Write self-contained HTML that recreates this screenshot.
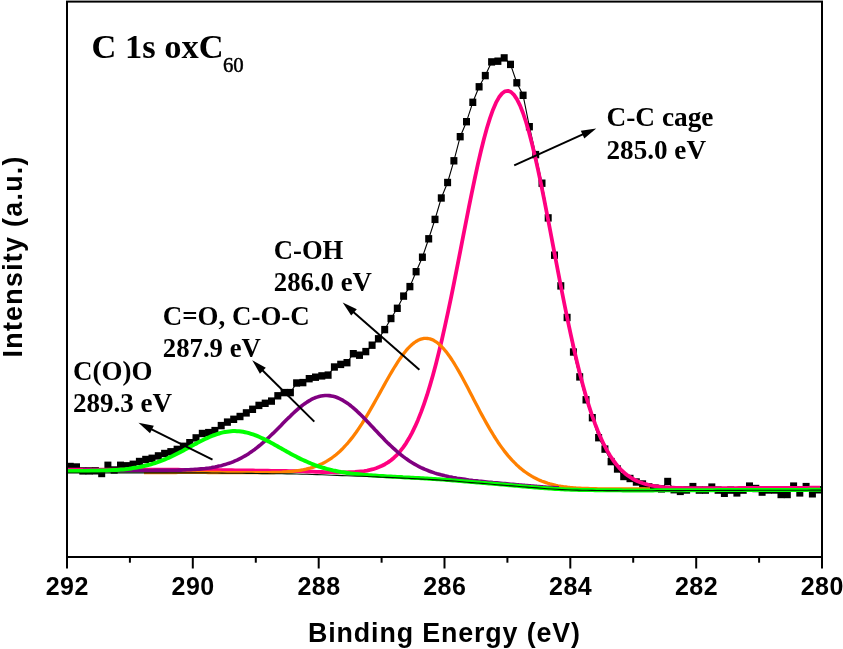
<!DOCTYPE html>
<html><head><meta charset="utf-8"><title>C 1s oxC60 XPS</title>
<style>
html,body{margin:0;padding:0;background:#fff;}
svg{display:block;}
.sf{font-family:"Liberation Serif",serif;font-weight:bold;fill:#000;}
.sa{font-family:"Liberation Sans",sans-serif;font-weight:bold;fill:#000;}
</style></head>
<body>
<svg width="843" height="649" viewBox="0 0 843 649">
<rect width="843" height="649" fill="#fff"/>
<g fill="none" stroke-linejoin="round" stroke-linecap="butt">
<path d="M70.2,466.5 L76.5,467.0 L82.8,470.9 L89.1,470.9 L95.4,470.8 L101.7,473.5 L107.9,465.3 L114.2,470.0 L120.5,465.3 L126.8,465.8 L133.1,464.3 L139.4,461.5 L145.7,459.5 L152.0,458.3 L158.3,455.9 L164.6,453.5 L170.8,451.8 L177.1,449.4 L183.4,446.3 L189.7,442.7 L196.0,437.9 L202.3,433.5 L208.6,432.6 L214.9,430.6 L221.2,425.6 L227.4,422.1 L233.7,419.3 L240.0,416.5 L246.3,412.9 L252.6,409.3 L258.9,405.4 L265.2,403.3 L271.5,401.1 L277.8,395.8 L284.1,392.6 L290.4,392.6 L296.6,383.0 L302.9,382.6 L309.2,378.7 L315.5,377.2 L321.8,375.9 L328.1,375.1 L334.4,367.0 L340.7,364.4 L347.0,362.7 L353.2,353.7 L359.5,355.2 L365.8,351.6 L372.1,345.2 L378.4,338.8 L384.7,329.6 L391.0,318.5 L397.3,308.3 L403.6,296.1 L409.9,286.6 L416.1,271.7 L422.4,257.2 L428.7,238.8 L435.0,219.4 L441.3,198.0 L447.6,182.5 L453.9,160.8 L460.2,136.7 L466.5,121.7 L472.8,102.3 L479.1,86.8 L485.3,75.6 L491.6,61.9 L497.9,61.2 L504.2,57.9 L510.5,64.4 L516.8,82.8 L523.1,95.3 L529.4,126.7 L535.7,154.6 L542.0,183.2 L548.2,217.9 L554.5,255.2 L560.8,285.9 L567.1,317.5 L573.4,352.0 L579.7,376.9 L586.0,399.8 L592.3,417.7 L598.6,437.7 L604.9,449.1 L611.1,461.6 L617.4,469.0 L623.7,476.5 L630.0,478.5 L636.3,482.0 L642.6,484.0 L648.9,486.9 L655.2,488.1 L661.5,488.9 L667.8,481.5 L674.0,489.7 L680.3,491.4 L686.6,490.0 L692.9,486.6 L699.2,490.1 L705.5,490.1 L711.8,487.1 L718.1,490.1 L724.4,493.3 L730.7,490.1 L736.9,492.9 L743.2,490.1 L749.5,486.1 L755.8,488.5 L762.1,492.1 L768.4,490.0 L774.7,490.0 L781.0,494.5 L787.3,494.5 L793.6,486.1 L799.8,492.9 L806.1,486.6 L812.4,493.8 L818.7,489.8" stroke="#000" stroke-width="1.1"/>
<g fill="#000" stroke="none"><rect x="66.7" y="462.8" width="7.0" height="7.4"/><rect x="73.0" y="463.3" width="7.0" height="7.4"/><rect x="79.3" y="467.2" width="7.0" height="7.4"/><rect x="85.6" y="467.2" width="7.0" height="7.4"/><rect x="91.9" y="467.1" width="7.0" height="7.4"/><rect x="98.2" y="469.8" width="7.0" height="7.4"/><rect x="104.4" y="461.6" width="7.0" height="7.4"/><rect x="110.7" y="466.3" width="7.0" height="7.4"/><rect x="117.0" y="461.6" width="7.0" height="7.4"/><rect x="123.3" y="462.1" width="7.0" height="7.4"/><rect x="129.6" y="460.6" width="7.0" height="7.4"/><rect x="135.9" y="457.8" width="7.0" height="7.4"/><rect x="142.2" y="455.8" width="7.0" height="7.4"/><rect x="148.5" y="454.6" width="7.0" height="7.4"/><rect x="154.8" y="452.2" width="7.0" height="7.4"/><rect x="161.1" y="449.8" width="7.0" height="7.4"/><rect x="167.3" y="448.1" width="7.0" height="7.4"/><rect x="173.6" y="445.7" width="7.0" height="7.4"/><rect x="179.9" y="442.6" width="7.0" height="7.4"/><rect x="186.2" y="439.0" width="7.0" height="7.4"/><rect x="192.5" y="434.2" width="7.0" height="7.4"/><rect x="198.8" y="429.8" width="7.0" height="7.4"/><rect x="205.1" y="428.9" width="7.0" height="7.4"/><rect x="211.4" y="426.9" width="7.0" height="7.4"/><rect x="217.7" y="421.9" width="7.0" height="7.4"/><rect x="223.9" y="418.4" width="7.0" height="7.4"/><rect x="230.2" y="415.6" width="7.0" height="7.4"/><rect x="236.5" y="412.8" width="7.0" height="7.4"/><rect x="242.8" y="409.2" width="7.0" height="7.4"/><rect x="249.1" y="405.6" width="7.0" height="7.4"/><rect x="255.4" y="401.7" width="7.0" height="7.4"/><rect x="261.7" y="399.6" width="7.0" height="7.4"/><rect x="268.0" y="397.4" width="7.0" height="7.4"/><rect x="274.3" y="392.1" width="7.0" height="7.4"/><rect x="280.6" y="388.9" width="7.0" height="7.4"/><rect x="286.9" y="388.9" width="7.0" height="7.4"/><rect x="293.1" y="379.3" width="7.0" height="7.4"/><rect x="299.4" y="378.9" width="7.0" height="7.4"/><rect x="305.7" y="375.0" width="7.0" height="7.4"/><rect x="312.0" y="373.5" width="7.0" height="7.4"/><rect x="318.3" y="372.2" width="7.0" height="7.4"/><rect x="324.6" y="371.4" width="7.0" height="7.4"/><rect x="330.9" y="363.3" width="7.0" height="7.4"/><rect x="337.2" y="360.7" width="7.0" height="7.4"/><rect x="343.5" y="359.0" width="7.0" height="7.4"/><rect x="349.8" y="350.0" width="7.0" height="7.4"/><rect x="356.0" y="351.5" width="7.0" height="7.4"/><rect x="362.3" y="347.9" width="7.0" height="7.4"/><rect x="368.6" y="341.5" width="7.0" height="7.4"/><rect x="374.9" y="335.1" width="7.0" height="7.4"/><rect x="381.2" y="325.9" width="7.0" height="7.4"/><rect x="387.5" y="314.8" width="7.0" height="7.4"/><rect x="393.8" y="304.6" width="7.0" height="7.4"/><rect x="400.1" y="292.4" width="7.0" height="7.4"/><rect x="406.4" y="282.9" width="7.0" height="7.4"/><rect x="412.6" y="268.0" width="7.0" height="7.4"/><rect x="418.9" y="253.5" width="7.0" height="7.4"/><rect x="425.2" y="235.1" width="7.0" height="7.4"/><rect x="431.5" y="215.7" width="7.0" height="7.4"/><rect x="437.8" y="194.3" width="7.0" height="7.4"/><rect x="444.1" y="178.8" width="7.0" height="7.4"/><rect x="450.4" y="157.1" width="7.0" height="7.4"/><rect x="456.7" y="133.0" width="7.0" height="7.4"/><rect x="463.0" y="118.0" width="7.0" height="7.4"/><rect x="469.3" y="98.6" width="7.0" height="7.4"/><rect x="475.6" y="83.1" width="7.0" height="7.4"/><rect x="481.8" y="71.9" width="7.0" height="7.4"/><rect x="488.1" y="58.2" width="7.0" height="7.4"/><rect x="494.4" y="57.5" width="7.0" height="7.4"/><rect x="500.7" y="54.2" width="7.0" height="7.4"/><rect x="507.0" y="60.7" width="7.0" height="7.4"/><rect x="513.3" y="79.1" width="7.0" height="7.4"/><rect x="519.6" y="91.6" width="7.0" height="7.4"/><rect x="525.9" y="123.0" width="7.0" height="7.4"/><rect x="532.2" y="150.9" width="7.0" height="7.4"/><rect x="538.5" y="179.5" width="7.0" height="7.4"/><rect x="544.7" y="214.2" width="7.0" height="7.4"/><rect x="551.0" y="251.5" width="7.0" height="7.4"/><rect x="557.3" y="282.2" width="7.0" height="7.4"/><rect x="563.6" y="313.8" width="7.0" height="7.4"/><rect x="569.9" y="348.3" width="7.0" height="7.4"/><rect x="576.2" y="373.2" width="7.0" height="7.4"/><rect x="582.5" y="396.1" width="7.0" height="7.4"/><rect x="588.8" y="414.0" width="7.0" height="7.4"/><rect x="595.1" y="434.0" width="7.0" height="7.4"/><rect x="601.4" y="445.4" width="7.0" height="7.4"/><rect x="607.6" y="457.9" width="7.0" height="7.4"/><rect x="613.9" y="465.3" width="7.0" height="7.4"/><rect x="620.2" y="472.8" width="7.0" height="7.4"/><rect x="626.5" y="474.8" width="7.0" height="7.4"/><rect x="632.8" y="478.3" width="7.0" height="7.4"/><rect x="639.1" y="480.3" width="7.0" height="7.4"/><rect x="645.4" y="483.2" width="7.0" height="7.4"/><rect x="651.7" y="484.4" width="7.0" height="7.4"/><rect x="658.0" y="485.2" width="7.0" height="7.4"/><rect x="664.2" y="477.8" width="7.0" height="7.4"/><rect x="670.5" y="486.0" width="7.0" height="7.4"/><rect x="676.8" y="487.7" width="7.0" height="7.4"/><rect x="683.1" y="486.3" width="7.0" height="7.4"/><rect x="689.4" y="482.9" width="7.0" height="7.4"/><rect x="695.7" y="486.4" width="7.0" height="7.4"/><rect x="702.0" y="486.4" width="7.0" height="7.4"/><rect x="708.3" y="483.4" width="7.0" height="7.4"/><rect x="714.6" y="486.4" width="7.0" height="7.4"/><rect x="720.9" y="489.6" width="7.0" height="7.4"/><rect x="727.2" y="486.4" width="7.0" height="7.4"/><rect x="733.4" y="489.2" width="7.0" height="7.4"/><rect x="739.7" y="486.4" width="7.0" height="7.4"/><rect x="746.0" y="482.4" width="7.0" height="7.4"/><rect x="752.3" y="484.8" width="7.0" height="7.4"/><rect x="758.6" y="488.4" width="7.0" height="7.4"/><rect x="764.9" y="486.3" width="7.0" height="7.4"/><rect x="771.2" y="486.3" width="7.0" height="7.4"/><rect x="777.5" y="490.8" width="7.0" height="7.4"/><rect x="783.8" y="490.8" width="7.0" height="7.4"/><rect x="790.1" y="482.4" width="7.0" height="7.4"/><rect x="796.3" y="489.2" width="7.0" height="7.4"/><rect x="802.6" y="482.9" width="7.0" height="7.4"/><rect x="808.9" y="490.1" width="7.0" height="7.4"/><rect x="815.2" y="486.1" width="7.0" height="7.4"/></g>
<path d="M67.0,469.6 L70.0,469.6 L73.0,469.6 L76.0,469.6 L79.0,469.6 L82.0,469.6 L85.0,469.6 L88.0,469.6 L91.0,469.6 L94.0,469.6 L97.0,469.6 L100.0,469.6 L103.0,469.6 L106.0,469.7 L109.0,469.7 L112.0,469.7 L115.0,469.7 L118.0,469.7 L121.0,469.7 L124.0,469.7 L127.0,469.7 L130.0,469.7 L133.0,469.7 L136.0,469.7 L139.0,469.7 L142.0,469.7 L145.0,469.7 L148.0,469.7 L151.0,469.7 L154.0,469.7 L157.0,469.7 L160.0,469.7 L163.0,469.7 L166.0,469.7 L169.0,469.7 L172.0,469.7 L175.0,469.7 L178.0,469.7 L181.0,469.8 L184.0,469.8 L187.0,469.8 L190.0,469.8 L193.0,469.8 L196.0,469.8 L199.0,469.8 L202.0,469.9 L205.0,469.9 L208.0,469.9 L211.0,469.9 L214.0,470.0 L217.0,470.0 L220.0,470.1 L223.0,470.1 L226.0,470.1 L229.0,470.2 L232.0,470.2 L235.0,470.3 L238.0,470.3 L241.0,470.4 L244.0,470.4 L247.0,470.4 L250.0,470.5 L253.0,470.5 L256.0,470.6 L259.0,470.6 L262.0,470.6 L265.0,470.7 L268.0,470.7 L271.0,470.8 L274.0,470.8 L277.0,470.9 L280.0,470.9 L283.0,471.0 L286.0,471.0 L289.0,471.1 L292.0,471.1 L295.0,471.2 L298.0,471.2 L301.0,471.3 L304.0,471.4 L307.0,471.5 L310.0,471.6 L313.0,471.7 L316.0,471.8 L319.0,471.9 L322.0,472.0 L325.0,472.1 L328.0,472.1 L331.0,472.2 L334.0,472.3 L337.0,472.3 L340.0,472.3 L343.0,472.3 L346.0,472.3 L349.0,472.2 L352.0,472.1 L355.0,472.0 L358.0,471.7 L361.0,471.4 L364.0,471.1 L367.0,470.6 L370.0,469.9 L373.0,469.2 L376.0,468.3 L379.0,467.1 L382.0,465.8 L385.0,464.2 L388.0,462.4 L391.0,460.2 L394.0,457.7 L397.0,454.8 L400.0,451.4 L403.0,447.6 L406.0,443.3 L409.0,438.3 L412.0,432.8 L415.0,426.7 L418.0,419.9 L421.0,412.4 L424.0,404.1 L427.0,395.2 L430.0,385.4 L433.0,375.0 L436.0,363.7 L439.0,351.8 L442.0,339.2 L445.0,325.9 L448.0,312.1 L451.0,297.8 L454.0,283.0 L457.0,267.9 L460.0,252.6 L463.0,237.2 L466.0,221.9 L469.0,206.7 L472.0,191.8 L475.0,177.5 L478.0,163.7 L481.0,150.8 L484.0,138.7 L487.0,127.8 L490.0,118.1 L493.0,109.7 L496.0,102.7 L499.0,97.3 L502.0,93.5 L505.0,91.3 L508.0,90.8 L511.0,92.0 L514.0,94.9 L517.0,99.4 L520.0,105.4 L523.0,113.0 L526.0,122.0 L529.0,132.3 L532.0,143.8 L535.0,156.3 L538.0,169.7 L541.0,183.9 L544.0,198.7 L547.0,214.0 L550.0,229.5 L553.0,245.3 L556.0,261.0 L559.0,276.6 L562.0,292.0 L565.0,307.0 L568.0,321.6 L571.0,335.7 L574.0,349.2 L577.0,362.0 L580.0,374.1 L583.0,385.5 L586.0,396.2 L589.0,406.1 L592.0,415.3 L595.0,423.7 L598.0,431.4 L601.0,438.4 L604.0,444.7 L607.0,450.4 L610.0,455.5 L613.0,460.0 L616.0,464.0 L619.0,467.6 L622.0,470.7 L625.0,473.4 L628.0,475.7 L631.0,477.7 L634.0,479.5 L637.0,481.0 L640.0,482.2 L643.0,483.3 L646.0,484.2 L649.0,485.0 L652.0,485.6 L655.0,486.1 L658.0,486.5 L661.0,486.9 L664.0,487.2 L667.0,487.4 L670.0,487.6 L673.0,487.7 L676.0,487.8 L679.0,487.9 L682.0,488.0 L685.0,488.1 L688.0,488.1 L691.0,488.1 L694.0,488.1 L697.0,488.1 L700.0,488.2 L703.0,488.2 L706.0,488.2 L709.0,488.2 L712.0,488.1 L715.0,488.1 L718.0,488.1 L721.0,488.1 L724.0,488.1 L727.0,488.1 L730.0,488.1 L733.0,488.1 L736.0,488.1 L739.0,488.0 L742.0,488.0 L745.0,488.0 L748.0,488.0 L751.0,488.0 L754.0,488.0 L757.0,488.0 L760.0,488.0 L763.0,487.9 L766.0,487.9 L769.0,487.9 L772.0,487.9 L775.0,487.9 L778.0,487.9 L781.0,487.9 L784.0,487.9 L787.0,487.8 L790.0,487.8 L793.0,487.8 L796.0,487.8 L799.0,487.8 L802.0,487.8 L805.0,487.8 L808.0,487.8 L811.0,487.7 L814.0,487.7 L817.0,487.7 L820.0,487.7" stroke="#ff0080" stroke-width="3.8"/>
<path d="M144.0,472.6 L146.0,472.6 L148.0,472.6 L150.0,472.6 L152.0,472.5 L154.0,472.5 L156.0,472.5 L158.0,472.5 L160.0,472.5 L162.0,472.5 L164.0,472.5 L166.0,472.5 L168.0,472.5 L170.0,472.5 L172.0,472.5 L174.0,472.5 L176.0,472.5 L178.0,472.4 L180.0,472.4 L182.0,472.4 L184.0,472.4 L186.0,472.4 L188.0,472.4 L190.0,472.4 L192.0,472.4 L194.0,472.4 L196.0,472.4 L198.0,472.4 L200.0,472.4 L202.0,472.4 L204.0,472.4 L206.0,472.4 L208.0,472.5 L210.0,472.5 L212.0,472.5 L214.0,472.5 L216.0,472.5 L218.0,472.5 L220.0,472.5 L222.0,472.6 L224.0,472.6 L226.0,472.6 L228.0,472.6 L230.0,472.6 L232.0,472.6 L234.0,472.7 L236.0,472.7 L238.0,472.7 L240.0,472.7 L242.0,472.7 L244.0,472.7 L246.0,472.7 L248.0,472.7 L250.0,472.7 L252.0,472.7 L254.0,472.7 L256.0,472.7 L258.0,472.7 L260.0,472.7 L262.0,472.7 L264.0,472.7 L266.0,472.7 L268.0,472.6 L270.0,472.6 L272.0,472.5 L274.0,472.5 L276.0,472.4 L278.0,472.3 L280.0,472.3 L282.0,472.2 L284.0,472.0 L286.0,471.9 L288.0,471.7 L290.0,471.6 L292.0,471.4 L294.0,471.1 L296.0,470.9 L298.0,470.6 L300.0,470.3 L302.0,470.0 L304.0,469.6 L306.0,469.2 L308.0,468.7 L310.0,468.2 L312.0,467.6 L314.0,466.9 L316.0,466.2 L318.0,465.5 L320.0,464.6 L322.0,463.7 L324.0,462.7 L326.0,461.6 L328.0,460.4 L330.0,459.1 L332.0,457.8 L334.0,456.3 L336.0,454.7 L338.0,453.0 L340.0,451.2 L342.0,449.3 L344.0,447.2 L346.0,445.0 L348.0,442.8 L350.0,440.4 L352.0,437.9 L354.0,435.2 L356.0,432.5 L358.0,429.6 L360.0,426.6 L362.0,423.6 L364.0,420.4 L366.0,417.1 L368.0,413.8 L370.0,410.4 L372.0,406.9 L374.0,403.4 L376.0,399.8 L378.0,396.2 L380.0,392.6 L382.0,389.0 L384.0,385.4 L386.0,381.8 L388.0,378.2 L390.0,374.7 L392.0,371.3 L394.0,368.0 L396.0,364.8 L398.0,361.7 L400.0,358.7 L402.0,355.9 L404.0,353.2 L406.0,350.7 L408.0,348.4 L410.0,346.4 L412.0,344.5 L414.0,342.9 L416.0,341.5 L418.0,340.3 L420.0,339.4 L422.0,338.8 L424.0,338.4 L426.0,338.3 L428.0,338.5 L430.0,338.9 L432.0,339.6 L434.0,340.6 L436.0,341.8 L438.0,343.3 L440.0,345.1 L442.0,347.0 L444.0,349.2 L446.0,351.6 L448.0,354.2 L450.0,357.0 L452.0,360.0 L454.0,363.2 L456.0,366.5 L458.0,369.9 L460.0,373.4 L462.0,377.0 L464.0,380.7 L466.0,384.5 L468.0,388.3 L470.0,392.2 L472.0,396.0 L474.0,399.9 L476.0,403.7 L478.0,407.6 L480.0,411.4 L482.0,415.1 L484.0,418.8 L486.0,422.4 L488.0,425.9 L490.0,429.4 L492.0,432.7 L494.0,436.0 L496.0,439.1 L498.0,442.2 L500.0,445.1 L502.0,447.9 L504.0,450.6 L506.0,453.1 L508.0,455.6 L510.0,457.9 L512.0,460.1 L514.0,462.2 L516.0,464.2 L518.0,466.1 L520.0,467.9 L522.0,469.5 L524.0,471.1 L526.0,472.5 L528.0,473.9 L530.0,475.2 L532.0,476.4 L534.0,477.5 L536.0,478.5 L538.0,479.5 L540.0,480.4 L542.0,481.2 L544.0,481.9 L546.0,482.6 L548.0,483.3 L550.0,483.9 L552.0,484.4 L554.0,484.9 L556.0,485.4 L558.0,485.8 L560.0,486.1 L562.0,486.5 L564.0,486.8 L566.0,487.0 L568.0,487.3 L570.0,487.5 L572.0,487.6 L574.0,487.8 L576.0,488.0 L578.0,488.1 L580.0,488.2 L582.0,488.3 L584.0,488.4 L586.0,488.5 L588.0,488.5 L590.0,488.6 L592.0,488.7 L594.0,488.7 L596.0,488.7 L598.0,488.8 L600.0,488.8 L602.0,488.8 L604.0,488.9 L606.0,488.9 L608.0,488.9 L610.0,488.9 L612.0,488.9 L614.0,488.9 L616.0,488.9 L618.0,488.9 L620.0,488.9 L622.0,488.9 L624.0,488.9 L626.0,488.9 L628.0,488.9 L630.0,488.9 L632.0,488.9 L634.0,488.9 L636.0,488.9 L638.0,488.8 L640.0,488.8 L642.0,488.8 L644.0,488.8 L646.0,488.8 L648.0,488.8 L650.0,488.8" stroke="#ff8000" stroke-width="3.3"/>
<path d="M83.0,470.4 L85.0,470.4 L87.0,470.4 L89.0,470.4 L91.0,470.4 L93.0,470.4 L95.0,470.4 L97.0,470.4 L99.0,470.5 L101.0,470.5 L103.0,470.5 L105.0,470.5 L107.0,470.5 L109.0,470.5 L111.0,470.5 L113.0,470.5 L115.0,470.5 L117.0,470.5 L119.0,470.5 L121.0,470.5 L123.0,470.5 L125.0,470.5 L127.0,470.5 L129.0,470.5 L131.0,470.5 L133.0,470.5 L135.0,470.5 L137.0,470.5 L139.0,470.5 L141.0,470.5 L143.0,470.5 L145.0,470.5 L147.0,470.5 L149.0,470.5 L151.0,470.5 L153.0,470.5 L155.0,470.4 L157.0,470.4 L159.0,470.4 L161.0,470.4 L163.0,470.4 L165.0,470.4 L167.0,470.4 L169.0,470.3 L171.0,470.3 L173.0,470.3 L175.0,470.2 L177.0,470.2 L179.0,470.1 L181.0,470.1 L183.0,470.0 L185.0,469.9 L187.0,469.8 L189.0,469.8 L191.0,469.6 L193.0,469.5 L195.0,469.4 L197.0,469.3 L199.0,469.1 L201.0,468.9 L203.0,468.7 L205.0,468.5 L207.0,468.2 L209.0,468.0 L211.0,467.7 L213.0,467.3 L215.0,467.0 L217.0,466.6 L219.0,466.1 L221.0,465.7 L223.0,465.1 L225.0,464.6 L227.0,463.9 L229.0,463.3 L231.0,462.6 L233.0,461.8 L235.0,460.9 L237.0,460.1 L239.0,459.1 L241.0,458.1 L243.0,457.0 L245.0,455.9 L247.0,454.7 L249.0,453.4 L251.0,452.0 L253.0,450.6 L255.0,449.2 L257.0,447.6 L259.0,446.0 L261.0,444.4 L263.0,442.7 L265.0,440.9 L267.0,439.1 L269.0,437.2 L271.0,435.3 L273.0,433.4 L275.0,431.4 L277.0,429.4 L279.0,427.4 L281.0,425.4 L283.0,423.3 L285.0,421.3 L287.0,419.3 L289.0,417.4 L291.0,415.4 L293.0,413.5 L295.0,411.7 L297.0,409.9 L299.0,408.1 L301.0,406.5 L303.0,404.9 L305.0,403.5 L307.0,402.1 L309.0,400.9 L311.0,399.7 L313.0,398.7 L315.0,397.8 L317.0,397.1 L319.0,396.5 L321.0,396.0 L323.0,395.7 L325.0,395.5 L327.0,395.5 L329.0,395.6 L331.0,395.9 L333.0,396.3 L335.0,396.8 L337.0,397.5 L339.0,398.4 L341.0,399.3 L343.0,400.4 L345.0,401.7 L347.0,403.0 L349.0,404.4 L351.0,406.0 L353.0,407.7 L355.0,409.4 L357.0,411.2 L359.0,413.1 L361.0,415.0 L363.0,417.0 L365.0,419.1 L367.0,421.2 L369.0,423.3 L371.0,425.4 L373.0,427.5 L375.0,429.7 L377.0,431.8 L379.0,433.9 L381.0,436.0 L383.0,438.1 L385.0,440.2 L387.0,442.2 L389.0,444.1 L391.0,446.0 L393.0,447.9 L395.0,449.7 L397.0,451.5 L399.0,453.2 L401.0,454.8 L403.0,456.4 L405.0,457.9 L407.0,459.3 L409.0,460.7 L411.0,462.0 L413.0,463.2 L415.0,464.4 L417.0,465.5 L419.0,466.6 L421.0,467.6 L423.0,468.5 L425.0,469.4 L427.0,470.2 L429.0,471.0 L431.0,471.7 L433.0,472.4 L435.0,473.1 L437.0,473.7 L439.0,474.2 L441.0,474.8 L443.0,475.3 L445.0,475.8 L447.0,476.2 L449.0,476.7 L451.0,477.1 L453.0,477.5 L455.0,477.8 L457.0,478.2 L459.0,478.5 L461.0,478.8 L463.0,479.1 L465.0,479.4 L467.0,479.7 L469.0,480.0 L471.0,480.2 L473.0,480.5 L475.0,480.7 L477.0,480.9 L479.0,481.2 L481.0,481.4 L483.0,481.6 L485.0,481.8 L487.0,482.0 L489.0,482.2 L491.0,482.4 L493.0,482.6 L495.0,482.7 L497.0,482.9 L499.0,483.1 L501.0,483.3 L503.0,483.5 L505.0,483.6 L507.0,483.8 L509.0,484.0 L511.0,484.2 L513.0,484.3 L515.0,484.5 L517.0,484.7 L519.0,484.9 L521.0,485.0 L523.0,485.2 L525.0,485.4 L527.0,485.5 L529.0,485.7 L531.0,485.9 L533.0,486.0 L535.0,486.2 L537.0,486.4 L539.0,486.5 L541.0,486.7 L543.0,486.9 L545.0,487.0 L547.0,487.2 L549.0,487.3 L551.0,487.5 L553.0,487.6 L555.0,487.7 L557.0,487.8 L559.0,487.9" stroke="#800080" stroke-width="3.6"/>
<path d="M67.0,471.0 L69.0,471.0 L71.0,471.0 L73.0,471.0 L75.0,470.9 L77.0,470.9 L79.0,470.9 L81.0,470.9 L83.0,470.9 L85.0,470.9 L87.0,470.9 L89.0,470.9 L91.0,470.8 L93.0,470.8 L95.0,470.8 L97.0,470.7 L99.0,470.7 L101.0,470.6 L103.0,470.6 L105.0,470.5 L107.0,470.4 L109.0,470.3 L111.0,470.2 L113.0,470.1 L115.0,470.0 L117.0,469.9 L119.0,469.7 L121.0,469.5 L123.0,469.4 L125.0,469.2 L127.0,468.9 L129.0,468.7 L131.0,468.4 L133.0,468.1 L135.0,467.8 L137.0,467.5 L139.0,467.1 L141.0,466.7 L143.0,466.3 L145.0,465.8 L147.0,465.3 L149.0,464.8 L151.0,464.3 L153.0,463.7 L155.0,463.0 L157.0,462.4 L159.0,461.7 L161.0,460.9 L163.0,460.1 L165.0,459.3 L167.0,458.5 L169.0,457.6 L171.0,456.7 L173.0,455.8 L175.0,454.8 L177.0,453.8 L179.0,452.8 L181.0,451.7 L183.0,450.7 L185.0,449.6 L187.0,448.5 L189.0,447.4 L191.0,446.3 L193.0,445.2 L195.0,444.1 L197.0,443.1 L199.0,442.0 L201.0,441.0 L203.0,440.0 L205.0,439.0 L207.0,438.1 L209.0,437.2 L211.0,436.3 L213.0,435.5 L215.0,434.8 L217.0,434.1 L219.0,433.5 L221.0,432.9 L223.0,432.4 L225.0,432.0 L227.0,431.7 L229.0,431.4 L231.0,431.2 L233.0,431.1 L235.0,431.1 L237.0,431.2 L239.0,431.3 L241.0,431.5 L243.0,431.8 L245.0,432.2 L247.0,432.6 L249.0,433.2 L251.0,433.8 L253.0,434.4 L255.0,435.1 L257.0,435.9 L259.0,436.8 L261.0,437.7 L263.0,438.6 L265.0,439.6 L267.0,440.6 L269.0,441.6 L271.0,442.7 L273.0,443.8 L275.0,444.9 L277.0,446.0 L279.0,447.2 L281.0,448.3 L283.0,449.4 L285.0,450.6 L287.0,451.7 L289.0,452.8 L291.0,453.9 L293.0,455.0 L295.0,456.0 L297.0,457.1 L299.0,458.1 L301.0,459.1 L303.0,460.0 L305.0,460.9 L307.0,461.8 L309.0,462.7 L311.0,463.5 L313.0,464.3 L315.0,465.1 L317.0,465.8 L319.0,466.5 L321.0,467.1 L323.0,467.8 L325.0,468.3 L327.0,468.9 L329.0,469.4 L331.0,469.9 L333.0,470.4 L335.0,470.8 L337.0,471.2 L339.0,471.6 L341.0,472.0 L343.0,472.3 L345.0,472.6 L347.0,472.9 L349.0,473.2 L351.0,473.5 L353.0,473.7 L355.0,473.9 L357.0,474.1 L359.0,474.3 L361.0,474.5 L363.0,474.7 L365.0,474.9 L367.0,475.0 L369.0,475.2 L371.0,475.3 L373.0,475.5 L375.0,475.6 L377.0,475.7 L379.0,475.9 L381.0,476.0 L383.0,476.1 L385.0,476.2 L387.0,476.4 L389.0,476.5 L391.0,476.6 L393.0,476.7 L395.0,476.8 L397.0,476.9 L399.0,477.0 L401.0,477.1 L403.0,477.3 L405.0,477.4 L407.0,477.5 L409.0,477.6 L411.0,477.7 L413.0,477.8 L415.0,477.9 L417.0,478.0 L419.0,478.1 L421.0,478.2 L423.0,478.3 L425.0,478.4 L427.0,478.5 L429.0,478.7 L431.0,478.8 L433.0,478.9 L435.0,479.0 L437.0,479.2 L439.0,479.3 L441.0,479.4 L443.0,479.6 L445.0,479.7 L447.0,479.9 L449.0,480.0 L451.0,480.2 L453.0,480.4 L455.0,480.5 L457.0,480.7 L459.0,480.9 L461.0,481.0 L463.0,481.2 L465.0,481.4 L467.0,481.5 L469.0,481.7 L471.0,481.9 L473.0,482.1 L475.0,482.2 L477.0,482.4 L479.0,482.6 L481.0,482.8 L483.0,482.9 L485.0,483.1 L487.0,483.3 L489.0,483.4 L491.0,483.6 L493.0,483.8 L495.0,484.0 L497.0,484.1 L499.0,484.3 L501.0,484.5 L503.0,484.6 L505.0,484.8 L507.0,485.0 L509.0,485.2 L511.0,485.3 L513.0,485.5 L515.0,485.7 L517.0,485.8 L519.0,486.0 L521.0,486.2 L523.0,486.4 L525.0,486.5 L527.0,486.7 L529.0,486.9 L531.0,487.0 L533.0,487.2 L535.0,487.4 L537.0,487.5 L539.0,487.7 L541.0,487.9 L543.0,488.0 L545.0,488.2 L547.0,488.3 L549.0,488.5 L551.0,488.6 L553.0,488.8 L555.0,488.9 L557.0,489.0 L559.0,489.1 L561.0,489.2 L563.0,489.3 L565.0,489.4 L567.0,489.5 L569.0,489.6 L571.0,489.7 L573.0,489.7 L575.0,489.8 L577.0,489.8 L579.0,489.9 L581.0,489.9 L583.0,490.0 L585.0,490.0 L587.0,490.0 L589.0,490.1 L591.0,490.1 L593.0,490.1 L595.0,490.2 L597.0,490.2 L599.0,490.2 L601.0,490.2 L603.0,490.2 L605.0,490.3 L607.0,490.3 L609.0,490.3 L611.0,490.3 L613.0,490.3 L615.0,490.3 L617.0,490.3 L619.0,490.3 L621.0,490.3 L623.0,490.4 L625.0,490.4 L627.0,490.4 L629.0,490.4 L631.0,490.4 L633.0,490.4 L635.0,490.4 L637.0,490.4 L639.0,490.4 L641.0,490.4 L643.0,490.4 L645.0,490.4 L647.0,490.4 L649.0,490.4 L651.0,490.4 L653.0,490.4 L655.0,490.3 L657.0,490.3 L659.0,490.3 L661.0,490.3 L663.0,490.3 L665.0,490.3 L667.0,490.3 L669.0,490.3 L671.0,490.3 L673.0,490.3 L675.0,490.3 L677.0,490.3 L679.0,490.3 L681.0,490.3 L683.0,490.3 L685.0,490.3 L687.0,490.2 L689.0,490.2 L691.0,490.2 L693.0,490.2 L695.0,490.2 L697.0,490.2 L699.0,490.2 L701.0,490.2 L703.0,490.2 L705.0,490.2 L707.0,490.2 L709.0,490.2 L711.0,490.2 L713.0,490.2 L715.0,490.2 L717.0,490.1 L719.0,490.1 L721.0,490.1 L723.0,490.1 L725.0,490.1 L727.0,490.1 L729.0,490.1 L731.0,490.1 L733.0,490.1 L735.0,490.1 L737.0,490.1 L739.0,490.1 L741.0,490.1 L743.0,490.1 L745.0,490.1 L747.0,490.0 L749.0,490.0 L751.0,490.0 L753.0,490.0 L755.0,490.0 L757.0,490.0 L759.0,490.0 L761.0,490.0 L763.0,490.0 L765.0,490.0 L767.0,490.0 L769.0,490.0 L771.0,490.0 L773.0,490.0 L775.0,490.0 L777.0,489.9 L779.0,489.9 L781.0,489.9 L783.0,489.9 L785.0,489.9 L787.0,489.9 L789.0,489.9 L791.0,489.9 L793.0,489.9 L795.0,489.9 L797.0,489.9 L799.0,489.9 L801.0,489.9 L803.0,489.9 L805.0,489.9 L807.0,489.9 L809.0,489.8 L811.0,489.8 L813.0,489.8 L815.0,489.8 L817.0,489.8 L819.0,489.8 L821.0,489.8" stroke="#00ff00" stroke-width="4.0"/>
<path d="M67.0,473.0 L72.0,473.0 L77.0,473.0 L82.0,473.0 L87.0,473.0 L92.0,473.0 L97.0,473.0 L102.0,473.0 L107.0,473.0 L112.0,472.9 L117.0,472.9 L122.0,472.9 L127.0,472.9 L132.0,472.9 L137.0,472.9 L142.0,472.9 L147.0,472.9 L152.0,472.9 L157.0,472.9 L162.0,472.9 L167.0,472.9 L172.0,472.9 L177.0,472.9 L182.0,472.9 L187.0,472.9 L192.0,472.9 L197.0,472.9 L202.0,472.9 L207.0,472.9 L212.0,473.0 L217.0,473.0 L222.0,473.1 L227.0,473.2 L232.0,473.2 L237.0,473.3 L242.0,473.3 L247.0,473.4 L252.0,473.4 L257.0,473.5 L262.0,473.6 L267.0,473.6 L272.0,473.7 L277.0,473.7 L282.0,473.8 L287.0,473.9 L292.0,473.9 L297.0,474.0 L302.0,474.2 L307.0,474.3 L312.0,474.5 L317.0,474.6 L322.0,474.8 L327.0,475.0 L332.0,475.2 L337.0,475.4 L342.0,475.6 L347.0,475.8 L352.0,476.0 L357.0,476.2 L362.0,476.3 L367.0,476.5 L372.0,476.7 L377.0,476.9 L382.0,477.2 L387.0,477.4 L392.0,477.6 L397.0,477.8 L402.0,478.1 L407.0,478.3 L412.0,478.6 L417.0,478.8 L422.0,479.1 L427.0,479.3 L432.0,479.6 L437.0,479.9 L442.0,480.2 L447.0,480.6 L452.0,480.9 L457.0,481.3 L462.0,481.7 L467.0,482.2 L472.0,482.6 L477.0,483.0 L482.0,483.4 L487.0,483.8 L492.0,484.2 L497.0,484.7 L502.0,485.1 L507.0,485.5 L512.0,485.9 L517.0,486.3 L522.0,486.7 L527.0,487.1 L532.0,487.5 L537.0,487.9 L542.0,488.3 L547.0,488.7 L552.0,489.0 L557.0,489.3 L562.0,489.6 L567.0,489.8 L572.0,490.0 L577.0,490.1 L582.0,490.2 L587.0,490.3 L592.0,490.4 L597.0,490.5 L602.0,490.5 L607.0,490.6 L612.0,490.6 L617.0,490.6 L622.0,490.7 L627.0,490.7 L632.0,490.7 L637.0,490.7 L642.0,490.7 L647.0,490.7 L652.0,490.7 L657.0,490.6 L662.0,490.6 L667.0,490.6 L672.0,490.6 L677.0,490.6 L682.0,490.6 L687.0,490.5 L692.0,490.5 L697.0,490.5 L702.0,490.5 L707.0,490.5 L712.0,490.5 L717.0,490.4 L722.0,490.4 L727.0,490.4 L732.0,490.4 L737.0,490.4 L742.0,490.4 L747.0,490.3 L752.0,490.3 L757.0,490.3 L762.0,490.3 L767.0,490.3 L772.0,490.3 L777.0,490.2 L782.0,490.2 L787.0,490.2 L792.0,490.2 L797.0,490.2 L802.0,490.2 L807.0,490.2 L812.0,490.1 L817.0,490.1 L822.0,490.1" stroke="#001800" stroke-width="1.1"/>
</g>
<g><line x1="514.2" y1="165.4" x2="584.4" y2="133.7" stroke="#000" stroke-width="2.0"/><polygon points="596.2,128.4 584.3,138.4 580.8,130.7" fill="#000"/><line x1="419.4" y1="369.8" x2="352.5" y2="311.2" stroke="#000" stroke-width="2.0"/><polygon points="342.7,302.6 356.8,309.3 351.2,315.6" fill="#000"/><line x1="314.3" y1="421.6" x2="261.4" y2="369.3" stroke="#000" stroke-width="2.0"/><polygon points="252.2,360.2 265.8,367.8 259.9,373.7" fill="#000"/><line x1="212.5" y1="459.7" x2="150.1" y2="428.6" stroke="#000" stroke-width="2.0"/><polygon points="138.5,422.8 153.8,425.7 150.0,433.3" fill="#000"/></g>
<rect x="67" y="1.6" width="755" height="555.4" fill="none" stroke="#000" stroke-width="2"/>
<g><line x1="67.0" y1="557" x2="67.0" y2="568.5" stroke="#000" stroke-width="2"/><line x1="129.9" y1="557" x2="129.9" y2="562.7" stroke="#000" stroke-width="2"/><line x1="192.8" y1="557" x2="192.8" y2="568.5" stroke="#000" stroke-width="2"/><line x1="255.8" y1="557" x2="255.8" y2="562.7" stroke="#000" stroke-width="2"/><line x1="318.7" y1="557" x2="318.7" y2="568.5" stroke="#000" stroke-width="2"/><line x1="381.6" y1="557" x2="381.6" y2="562.7" stroke="#000" stroke-width="2"/><line x1="444.5" y1="557" x2="444.5" y2="568.5" stroke="#000" stroke-width="2"/><line x1="507.4" y1="557" x2="507.4" y2="562.7" stroke="#000" stroke-width="2"/><line x1="570.3" y1="557" x2="570.3" y2="568.5" stroke="#000" stroke-width="2"/><line x1="633.2" y1="557" x2="633.2" y2="562.7" stroke="#000" stroke-width="2"/><line x1="696.2" y1="557" x2="696.2" y2="568.5" stroke="#000" stroke-width="2"/><line x1="759.1" y1="557" x2="759.1" y2="562.7" stroke="#000" stroke-width="2"/><line x1="822.0" y1="557" x2="822.0" y2="568.5" stroke="#000" stroke-width="2"/></g>
<g class="sa" font-size="25"><text x="67.3" y="595.1" text-anchor="middle" letter-spacing="0.5">292</text><text x="193.1" y="595.1" text-anchor="middle" letter-spacing="0.5">290</text><text x="319.0" y="595.1" text-anchor="middle" letter-spacing="0.5">288</text><text x="444.8" y="595.1" text-anchor="middle" letter-spacing="0.5">286</text><text x="570.6" y="595.1" text-anchor="middle" letter-spacing="0.5">284</text><text x="696.5" y="595.1" text-anchor="middle" letter-spacing="0.5">282</text><text x="822.3" y="595.1" text-anchor="middle" letter-spacing="0.5">280</text></g>
<text class="sa" x="308" y="642.2" font-size="26.8" textLength="272" lengthAdjust="spacing">Binding Energy (eV)</text>
<text class="sa" transform="translate(22.3,357.5) rotate(-90)" font-size="26.8" textLength="201" lengthAdjust="spacing">Intensity (a.u.)</text>
<g class="sf">
<text x="91.5" y="58.4" font-size="34" textLength="132" lengthAdjust="spacingAndGlyphs">C 1s oxC</text>
<text x="222.9" y="71.9" font-size="20.8" font-weight="normal" stroke="#000" stroke-width="0.5">60</text>
<text x="606.5" y="126.2" font-size="26.4" textLength="107" lengthAdjust="spacingAndGlyphs">C-C cage</text><text x="606.5" y="159.2" font-size="26.4" textLength="99.5" lengthAdjust="spacingAndGlyphs">285.0 eV</text><text x="273.8" y="258.6" font-size="26.4" textLength="69.5" lengthAdjust="spacingAndGlyphs">C-OH</text><text x="273.8" y="291.1" font-size="26.4" textLength="98" lengthAdjust="spacingAndGlyphs">286.0 eV</text><text x="162.8" y="324.8" font-size="26.4" textLength="147" lengthAdjust="spacingAndGlyphs">C=O, C-O-C</text><text x="162.8" y="357.3" font-size="26.4" textLength="98" lengthAdjust="spacingAndGlyphs">287.9 eV</text><text x="73.1" y="380.3" font-size="26.4" textLength="79.5" lengthAdjust="spacingAndGlyphs">C(O)O</text><text x="73.1" y="412.3" font-size="26.4" textLength="99" lengthAdjust="spacingAndGlyphs">289.3 eV</text>
</g>
</svg>
</body></html>
